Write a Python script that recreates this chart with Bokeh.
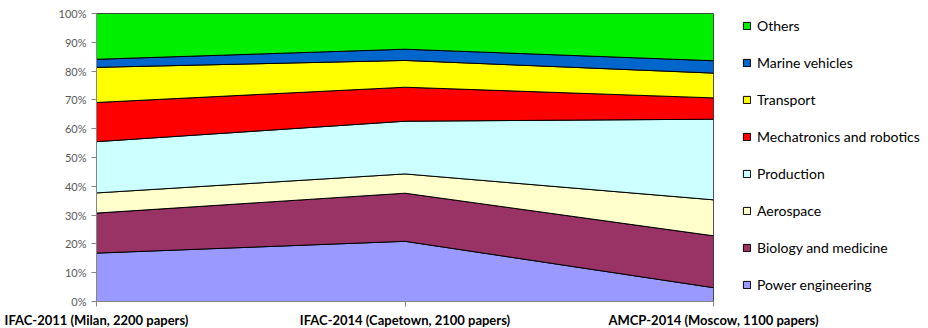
from bokeh.plotting import figure
from bokeh.models import Range1d, FixedTicker, Legend, LegendItem
from bokeh.embed import file_html
from bokeh.resources import INLINE

conferences = ["IFAC-2011 (Milan, 2200 papers)",
               "IFAC-2014 (Capetown, 2100 papers)",
               "AMCP-2014 (Moscow, 1100 papers)"]

series_names = ["Power engineering", "Biology and medicine", "Aerospace", "Production",
                "Mechatronics and robotics", "Transport", "Marine vehicles", "Others"]

power_engineering = [16.8, 20.9, 4.8]
biology_medicine = [13.9, 16.7, 18.0]
aerospace = [7.0, 6.7, 12.5]
production = [17.8, 18.3, 28.0]
mechatronics_robotics = [13.6, 11.8, 7.4]
transport = [12.2, 9.3, 8.6]
marine_vehicles = [2.8, 3.9, 4.3]
others = [15.9, 12.4, 16.4]

y_ticks = [0, 10, 20, 30, 40, 50, 60, 70, 80, 90, 100]

colors = ["#9999FF", "#993366", "#FFFFCC", "#CCFFFF", "#FF0000", "#FFFF00", "#0066CC", "#00EE00"]

series = [power_engineering, biology_medicine, aerospace, production,
          mechatronics_robotics, transport, marine_vehicles, others]

xs = list(range(len(conferences)))

p = figure(frame_width=617, frame_height=288, output_backend="svg", toolbar_location=None,
           x_range=Range1d(0, len(conferences) - 1), y_range=Range1d(0, 100),
           min_border_left=96, min_border_right=0, min_border_top=13, min_border_bottom=27)

p.xgrid.visible = False
p.ygrid.visible = False
p.outline_line_color = "#868686"
p.outline_line_width = 1
p.background_fill_color = "white"
p.border_fill_color = "white"

# normalise to 100%
totals = [sum(s[i] for s in series) for i in xs]
norm = [[s[i] * 100.0 / totals[i] for i in xs] for s in series]

renderers = []
base = [0.0] * len(xs)
for name, vals, col in zip(series_names, norm, colors):
    top = [b + v for b, v in zip(base, vals)]
    px = xs + xs[::-1]
    py = top + base[::-1]
    r = p.patch(px, py, fill_color=col, line_color="black", line_width=1)
    renderers.append((name, r))
    base = top

items = [LegendItem(label=n, renderers=[r]) for n, r in renderers[::-1]]
legend = Legend(items=items, location=(29, 6), orientation="vertical",
                glyph_width=9, glyph_height=9, label_height=21, spacing=16,
                label_standoff=6, padding=0, margin=0,
                border_line_alpha=0, background_fill_alpha=0,
                label_text_font="Lato", label_text_font_size="14px",
                label_text_color="black")
p.add_layout(legend, "right")

# y axis
p.yaxis.ticker = FixedTicker(ticks=y_ticks)
p.yaxis.major_label_overrides = {t: f"{t}%" for t in y_ticks}
p.yaxis.minor_tick_line_color = None
p.yaxis.major_tick_in = 0
p.yaxis.major_tick_out = 5
p.yaxis.major_label_standoff = 5
p.yaxis.axis_line_color = "#868686"
p.yaxis.major_tick_line_color = "#868686"
p.yaxis.major_label_text_font = "Lato"
p.yaxis.major_label_text_font_size = "11px"
p.yaxis.major_label_text_color = "#595959"

# x axis
p.xaxis.ticker = FixedTicker(ticks=xs)
p.xaxis.major_label_overrides = {i: c for i, c in zip(xs, conferences)}
p.xaxis.minor_tick_line_color = None
p.xaxis.major_tick_in = 0
p.xaxis.major_tick_out = 5
p.xaxis.major_label_standoff = 5
p.xaxis.axis_line_color = "#868686"
p.xaxis.major_tick_line_color = "#868686"
p.xaxis.major_label_text_font = "Lato"
p.xaxis.major_label_text_font_style = "bold"
p.xaxis.major_label_text_font_size = "13px"
p.xaxis.major_label_text_color = "black"

open("out.html", "w").write(file_html(p, INLINE))
